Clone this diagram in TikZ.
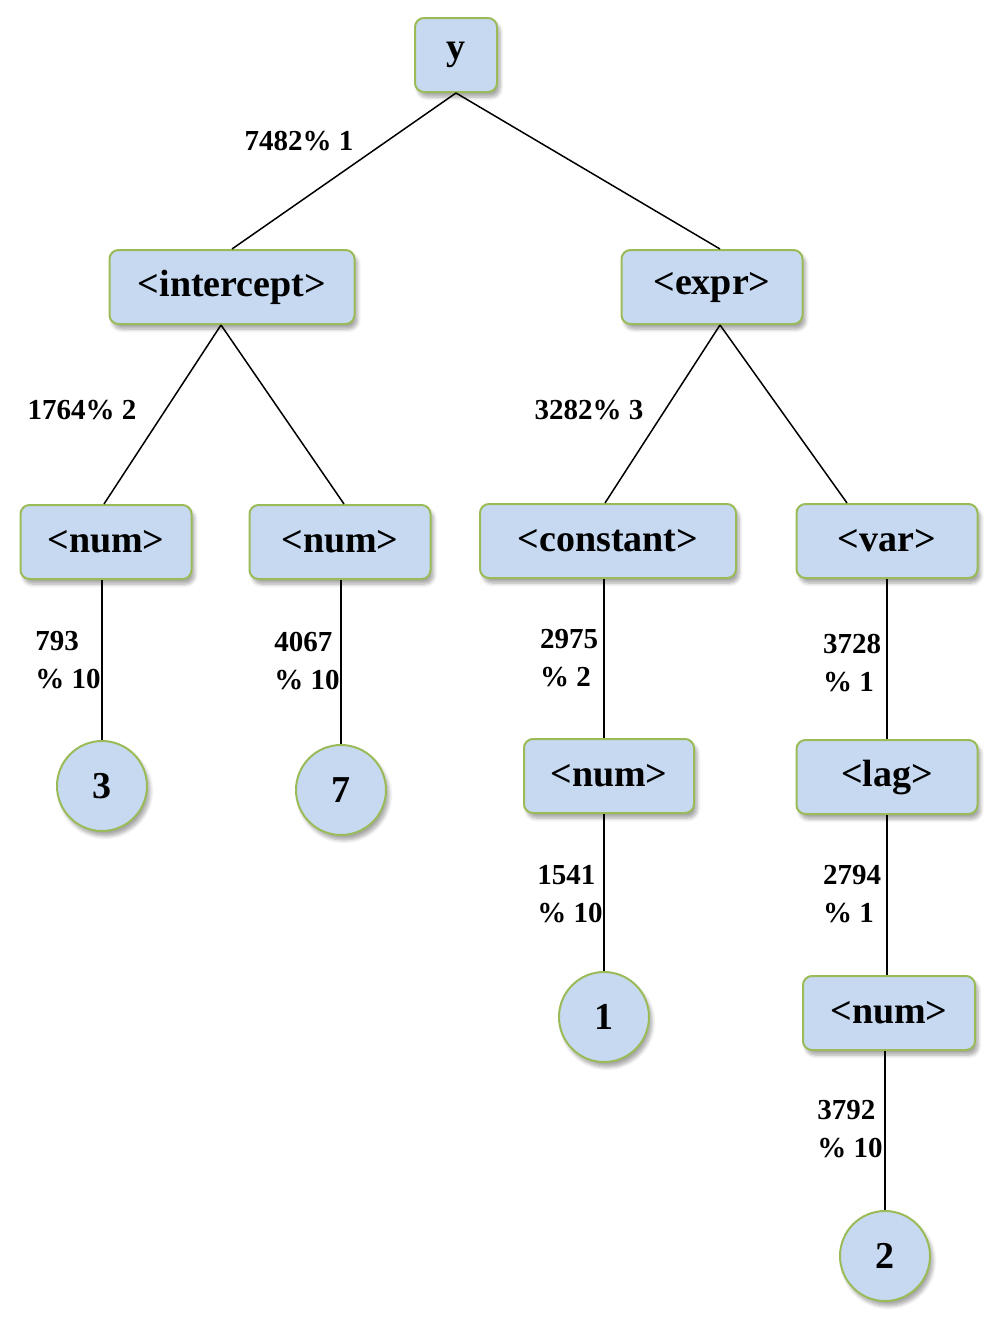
\documentclass[tikz,border=0pt]{standalone}
\usepackage{fontspec}
\setmainfont{Liberation Serif}
\usetikzlibrary{positioning,shadows,shadows.blur}

\definecolor{boxblue}{HTML}{C6D9F0}
\definecolor{boxgreen}{HTML}{9BBB59}

\tikzset{
  gram/.style={draw=boxgreen, line width=1pt, fill=boxblue, rounded corners=4.5pt,
    minimum height=37pt, inner sep=2pt, font=\bfseries\fontsize{19}{23}\selectfont,
    blur shadow={shadow xshift=1.5pt, shadow yshift=-2.5pt, shadow opacity=35, shadow blur steps=6}},
  leaf/.style={circle, draw=boxgreen, line width=1pt, fill=boxblue, minimum size=45pt,
    inner sep=0pt, font=\bfseries\fontsize{19}{23}\selectfont,
    blur shadow={shadow xshift=1.5pt, shadow yshift=-2.5pt, shadow opacity=35, shadow blur steps=6}},
  rule/.style={font=\bfseries\fontsize{14.5}{19}\selectfont, align=left, inner sep=0pt},
  branch/.style={line width=0.75pt}
}

\begin{document}
\begin{tikzpicture}[x=0.5pt, y=-0.5pt]
  \useasboundingbox (0,0) rectangle (993,1317);

  % grammar nodes
  \node[gram, minimum width=41pt] (y) at (456,55) {y};
  \node[gram, minimum width=122.5pt] (intercept) at (232,287) {<intercept>};
  \node[gram, minimum width=90.5pt] (expr) at (712,287) {<expr>};
  \node[gram, minimum width=85.5pt] (num1) at (106,542) {<num>};
  \node[gram, minimum width=90.5pt] (num2) at (340,542) {<num>};
  \node[gram, minimum width=128pt] (constant) at (608,541) {<constant>};
  \node[gram, minimum width=90.5pt] (var) at (887,541) {<var>};
  \node[gram, minimum width=85pt] (num3) at (609,776) {<num>};
  \node[gram, minimum width=90.5pt] (lag) at (887,777) {<lag>};
  \node[gram, minimum width=86pt] (num4) at (889,1013) {<num>};

  % terminals
  \node[leaf] (three) at (102,786) {3};
  \node[leaf] (seven) at (341,790) {7};
  \node[leaf] (one) at (604,1017) {1};
  \node[leaf] (two) at (885,1256) {2};

  % branches
  \draw[branch] (y.south) -- (intercept.north);
  \draw[branch] (y.south) -- ([xshift=4pt]expr.north);
  \draw[branch] ([xshift=-5.5pt]intercept.south) -- ([xshift=-1pt]num1.north);
  \draw[branch] ([xshift=-5.5pt]intercept.south) -- ([xshift=2pt]num2.north);
  \draw[branch] ([xshift=4pt]expr.south) -- ([xshift=-1.5pt]constant.north);
  \draw[branch] ([xshift=4pt]expr.south) -- ([xshift=-20pt]var.north);
  \draw[branch] ([xshift=-2pt]num1.south) -- (three.north);
  \draw[branch] ([xshift=0.5pt]num2.south) -- (seven.north);
  \draw[branch] ([xshift=-2pt]constant.south) -- ([xshift=-2.5pt]num3.north);
  \draw[branch] ([xshift=-2.5pt]num3.south) -- (one.north);
  \draw[branch] (var.south) -- (lag.north);
  \draw[branch] (lag.south) -- ([xshift=-1pt]num4.north);
  \draw[branch] ([xshift=-2pt]num4.south) -- (two.north);

  % rule choices
  \node[rule] (r1) at (299,141) {7482\% 1};
  \node[rule] (r2) at (82,410) {1764\% 2};
  \node[rule] (r3) at (589,410) {3282\% 3};
  \node[rule] (r4) at (68,660) {793\\ \% 10};
  \node[rule] (r5) at (307,661) {4067\\ \% 10};
  \node[rule] (r6) at (569,658) {2975\\ \% 2};
  \node[rule] (r7) at (852,663) {3728\\ \% 1};
  \node[rule] (r8) at (570,894) {1541\\ \% 10};
  \node[rule] (r9) at (852,894) {2794\\ \% 1};
  \node[rule] (r10) at (850,1129) {3792\\ \% 10};
\end{tikzpicture}
\end{document}
